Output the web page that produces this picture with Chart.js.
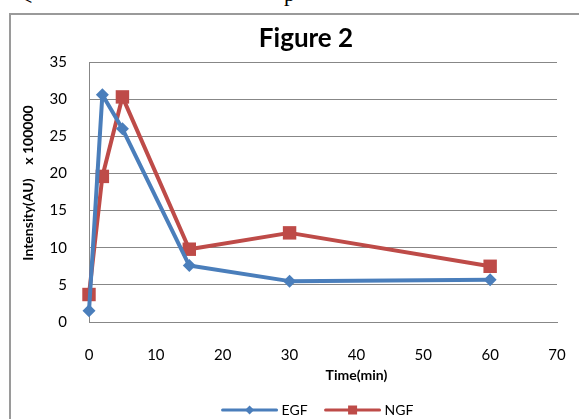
<!DOCTYPE html>
<html>
<head>
<meta charset="utf-8">
<script src="https://cdn.jsdelivr.net/npm/chart.js@4/dist/chart.umd.min.js"></script>
<style>
  html, body { margin: 0; padding: 0; background: #fff; }
  body { width: 579px; height: 419px; position: relative; overflow: hidden; }
  #wrap { position: absolute; left: 0; top: 0; width: 579px; height: 419px; }
  #frame { position: absolute; left: 9px; top: 13px; width: 600px; height: 450px;
           border-left: 2px solid #9a9a9a; border-top: 2px solid #9a9a9a; pointer-events: none; }
  .stray { position: absolute; font-family: "Liberation Serif", serif; color: #000; line-height: 1; }
</style>
</head>
<body>
<div class="stray" style="left:19px; top:-15px; font-size:24px;">&lt;</div>
<div class="stray" style="left:284px; top:-17px; font-size:22px;">p</div>
<div id="wrap"><canvas id="chart" width="579" height="419"></canvas></div>
<div id="frame"></div>
<script>
// time points (min) and intensities (AU, x 100000)
const timeMin = [0, 2, 5, 15, 30, 60];
const egfValues = [1.5, 30.6, 26.0, 7.6, 5.5, 5.7];
const ngfValues = [3.7, 19.6, 30.3, 9.8, 12.0, 7.5];
const seriesNames = ['EGF', 'NGF'];
const xTicks = [0, 10, 20, 30, 40, 50, 60, 70];
const yTicks = [0, 5, 10, 15, 20, 25, 30, 35];

const BLUE = '#4a7ebb';
const RED = '#be4b48';
const GRID = '#878787';
const FONT = 'Lato, "Open Sans", sans-serif';

function pts(values) {
  return timeMin.map(function(t, i) { return { x: t, y: values[i] }; });
}

// titles + legend drawn by hand so they sit where the reference puts them
const decorations = {
  id: 'decorations',
  afterDraw: function(chart) {
    var ctx = chart.ctx;
    ctx.save();
    ctx.fillStyle = '#000';

    // main title
    ctx.font = 'bold 26px ' + FONT;
    ctx.textAlign = 'center';
    ctx.textBaseline = 'alphabetic';
    ctx.fillText('Figure 2', 306, 47);

    // x axis title
    ctx.font = 'bold 14px ' + FONT;
    ctx.textBaseline = 'middle';
    ctx.fillText('Time(min)', chart.scales.x.getPixelForValue(40), 375);

    // y axis title
    ctx.save();
    ctx.translate(28, 183);
    ctx.rotate(-Math.PI / 2);
    ctx.fillText('Intensity(AU)    x 100000', 0, 0);
    ctx.restore();

    // legend: line with marker, then label
    ctx.font = '14px ' + FONT;
    ctx.textAlign = 'left';
    var lineLen = 54, gap = 5, itemGap = 18, y = 410;
    var widths = chart.data.datasets.map(function(ds) { return lineLen + gap + ctx.measureText(ds.label).width; });
    var total = widths.reduce(function(a, b) { return a + b; }, 0) + itemGap * (widths.length - 1);
    var x = 318 - total / 2;
    chart.data.datasets.forEach(function(ds, i) {
      ctx.strokeStyle = ds.borderColor;
      ctx.lineWidth = 3;
      ctx.lineCap = 'round';
      ctx.beginPath();
      ctx.moveTo(x, y);
      ctx.lineTo(x + lineLen, y);
      ctx.stroke();
      ctx.fillStyle = ds.borderColor;
      var cx = x + lineLen / 2;
      ctx.beginPath();
      if (ds.pointStyle === 'rectRot') {
        ctx.moveTo(cx, y - 4.5); ctx.lineTo(cx + 4.5, y); ctx.lineTo(cx, y + 4.5); ctx.lineTo(cx - 4.5, y);
        ctx.closePath();
      } else {
        ctx.rect(cx - 4.5, y - 4.5, 9, 9);
      }
      ctx.fill();
      ctx.fillStyle = '#000';
      ctx.fillText(ds.label, x + lineLen + gap, y);
      x += widths[i] + itemGap;
    });
    ctx.restore();
  }
};

new Chart(document.getElementById('chart'), {
  type: 'line',
  data: {
    datasets: [
      {
        label: seriesNames[0],
        data: pts(egfValues),
        borderColor: BLUE,
        backgroundColor: BLUE,
        borderWidth: 4,
        borderJoinStyle: 'round',
        pointStyle: 'rectRot',
        pointRadius: 6.5,
        pointBorderWidth: 0,
        pointBackgroundColor: BLUE,
        tension: 0,
        fill: false,
        clip: false
      },
      {
        label: seriesNames[1],
        data: pts(ngfValues),
        borderColor: RED,
        backgroundColor: RED,
        borderWidth: 4,
        borderJoinStyle: 'round',
        pointStyle: 'rect',
        pointRadius: 9.5,
        pointBorderWidth: 0,
        pointBackgroundColor: RED,
        tension: 0,
        fill: false,
        clip: false
      }
    ]
  },
  options: {
    responsive: false,
    animation: false,
    layout: { padding: { left: 0, right: 22, top: 62, bottom: 0 } },
    plugins: {
      legend: { display: false },
      title: { display: false },
      tooltip: { enabled: false }
    },
    scales: {
      x: {
        type: 'linear',
        min: 0,
        max: 70,
        afterFit: function(scale) { scale.height = 97; scale.paddingLeft = 0; scale.paddingRight = 0; },
        afterBuildTicks: function(scale) { scale.ticks = xTicks.map(function(v) { return { value: v }; }); },
        grid: { display: true, drawOnChartArea: false, drawTicks: false },
        border: { display: true, color: GRID, width: 1 },
        ticks: { padding: 24, color: '#000', font: { family: FONT, size: 15 }, maxRotation: 0 }
      },
      y: {
        type: 'linear',
        min: 0,
        max: 35,
        afterFit: function(scale) { scale.width = 89; scale.paddingTop = 0; scale.paddingBottom = 0; },
        afterBuildTicks: function(scale) { scale.ticks = yTicks.map(function(v) { return { value: v }; }); },
        grid: { color: GRID, lineWidth: 1, drawTicks: false },
        border: { display: true, color: GRID, width: 1 },
        ticks: { padding: 22, color: '#000', font: { family: FONT, size: 15 } }
      }
    }
  },
  plugins: [decorations]
});
</script>
</body>
</html>
